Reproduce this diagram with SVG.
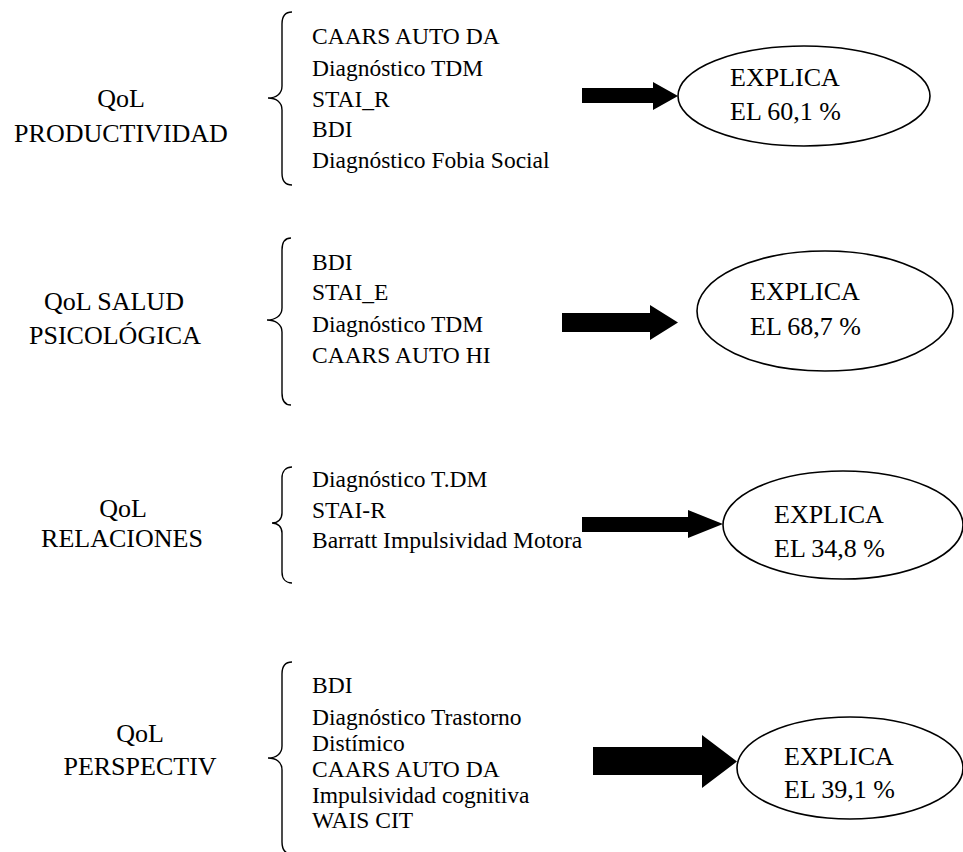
<svg xmlns="http://www.w3.org/2000/svg" width="963" height="852" viewBox="0 0 963 852">
<style>
text{font-family:"Liberation Serif","Times New Roman",serif;fill:#000}
.lbl{font-size:26px;text-anchor:middle}
.lst{font-size:23.5px}
.res{font-size:26px}
.brace{fill:none;stroke:#000;stroke-width:1.4}
.ell{fill:#fff;stroke:#000;stroke-width:1.6}
.arr{fill:#000;stroke:none}
</style>
<defs>
<clipPath id="clip1"><rect x="300" y="0" width="300" height="174"/></clipPath>
</defs>
<rect width="963" height="852" fill="#fff"/>

<g id="label-productividad">
<text class="lbl" x="121" y="107">QoL</text>
<text class="lbl" x="121" y="142">PRODUCTIVIDAD</text>
</g>
<g id="list-productividad">
<path class="brace" d="M292,12 C285,12 282,16 282,24 L282,86 C282,94 276,98 268,98 C276,98 282,102 282,110 L282,173 C282,181 285,185 292,185"/>
<g clip-path="url(#clip1)">
<text class="lst" x="312" y="44">CAARS AUTO DA</text>
<text class="lst" x="312" y="76">Diagnóstico TDM</text>
<text class="lst" x="312" y="107">STAI_R</text>
<text class="lst" x="312" y="137">BDI</text>
<text class="lst" x="312" y="168">Diagnóstico Fobia Social</text>
</g>
</g>
<g id="result-productividad">
<ellipse class="ell" cx="804" cy="96" rx="126" ry="50"/>
<text class="res" x="730" y="86">EXPLICA</text>
<text class="res" x="730" y="120">EL 60,1 %</text>
</g>

<g id="label-salud">
<text class="lbl" x="114" y="310">QoL SALUD</text>
<text class="lbl" x="115" y="344">PSICOLÓGICA</text>
</g>
<g id="list-salud">
<path class="brace" d="M291,238 C285,238 282,242 282,250 L282,308 C282,316 275,320 267,320 C275,320 282,324 282,332 L282,393 C282,401 285,405 291,405"/>
<text class="lst" x="312" y="270">BDI</text>
<text class="lst" x="312" y="300">STAI_E</text>
<text class="lst" x="312" y="332">Diagnóstico TDM</text>
<text class="lst" x="312" y="363">CAARS AUTO HI</text>
</g>
<g id="result-salud">
<ellipse class="ell" cx="825" cy="311" rx="128" ry="60"/>
<text class="res" x="750" y="300">EXPLICA</text>
<text class="res" x="750" y="335">EL 68,7 %</text>
</g>

<g id="label-relaciones">
<text class="lbl" x="123" y="517">QoL</text>
<text class="lbl" x="122" y="547">RELACIONES</text>
</g>
<g id="list-relaciones">
<path class="brace" d="M292,467 C286,467 282,471 282,478 L282,513 C282,519 278,523 272,523 C278,523 282,527 282,533 L282,572 C282,579 286,583 292,583"/>
<text class="lst" x="312" y="487">Diagnóstico T.DM</text>
<text class="lst" x="312" y="518">STAI-R</text>
<text class="lst" x="312" y="548">Barratt Impulsividad Motora</text>
</g>
<g id="result-relaciones">
<ellipse class="ell" cx="843" cy="525" rx="120" ry="54"/>
<text class="res" x="774" y="523">EXPLICA</text>
<text class="res" x="774" y="557">EL 34,8 %</text>
</g>

<g id="label-perspectiv">
<text class="lbl" x="140" y="742">QoL</text>
<text class="lbl" x="140" y="775">PERSPECTIV</text>
</g>
<g id="list-perspectiv">
<path class="brace" d="M292,662 C285,662 282,666 282,674 L282,746 C282,754 276,758 268,758 C276,758 282,762 282,770 L282,842 C282,850 285,854 292,854"/>
<text class="lst" x="312" y="693">BDI</text>
<text class="lst" x="312" y="725">Diagnóstico Trastorno</text>
<text class="lst" x="312" y="751">Distímico</text>
<text class="lst" x="312" y="777">CAARS AUTO DA</text>
<text class="lst" x="312" y="803">Impulsividad cognitiva</text>
<text class="lst" x="312" y="828">WAIS CIT</text>
</g>
<g id="result-perspectiv">
<ellipse class="ell" cx="850" cy="768" rx="113" ry="51"/>
<text class="res" x="784" y="765">EXPLICA</text>
<text class="res" x="784" y="798">EL 39,1 %</text>
</g>

<g id="connectors">
<path class="arr" d="M582,88 H653 V82 L678,96 L653,110 V103 H582 Z"/>
<path class="arr" d="M562,313 H650 V305 L678,322.5 L650,340 V332 H562 Z"/>
<path class="arr" d="M582,517 H688 V510 L723,524 L688,538 V532 H582 Z"/>
<path class="arr" d="M593,747 H702 V735 L737,761.5 L702,788 V775 H593 Z"/>
</g>
</svg>
